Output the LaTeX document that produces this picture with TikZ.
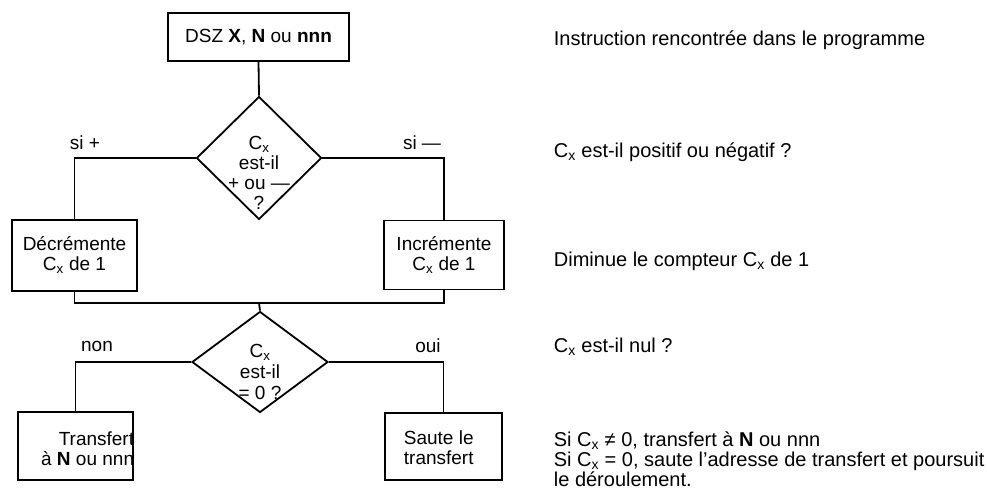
\documentclass[tikz,border=0pt]{standalone}
\usepackage{fontspec}
\setmainfont{Liberation Sans}
\usetikzlibrary{shapes.geometric}
\newcommand{\Cx}{C\textsubscript{x}}
\begin{document}
\begin{tikzpicture}[x=1pt,y=-1pt,line width=1.8pt,
  txt/.style={font=\fontsize{19}{20}\selectfont,inner sep=0pt,align=center},
  note/.style={font=\fontsize{20}{20}\selectfont,inner sep=0pt,anchor=base west,align=left},
  stepbox/.style={draw,rectangle,inner sep=0pt},
  test/.style={draw,diamond,inner sep=0pt}]
\useasboundingbox (0,0) rectangle (987,496);

% flowchart boxes
\node[stepbox,minimum width=181pt,minimum height=48pt] (dsz) at (258.5,37) {};
\node[txt] (dszt) at (258.5,37) {DSZ \textbf{X}, \textbf{N} ou \textbf{nnn}};

\node[test,minimum width=125pt,minimum height=123pt] (d1) at (259,158) {};
\node[txt] (d1t) at (259,173) {\Cx\\est-il\\+ ou —\\?};

\node[stepbox,minimum width=125pt,minimum height=71pt] (dec) at (74.5,255.5) {};
\node[txt] (dect) at (74.5,255) {Décrémente\\\Cx\ de 1};

\node[stepbox,minimum width=120pt,minimum height=69pt] (inc) at (444,255) {};
\node[txt] (inct) at (444,255) {Incrémente\\\Cx\ de 1};

\coordinate (join) at (259,303);

\node[test,minimum width=136pt,minimum height=101pt] (d2) at (260,362) {};
\node[txt] (d2t) at (260,372) {\Cx\\[1pt]est-il\\[1pt]= 0 ?};

\node[stepbox,minimum width=115pt,minimum height=68pt] (trf) at (75.5,446) {};
\node[txt,align=right,anchor=east] (trft) at (135,449) {Transfert\\à \textbf{N} ou nnn};

\node[stepbox,minimum width=117pt,minimum height=67pt] (skip) at (443.5,446.5) {};
\node[txt,align=left,anchor=west] (skipt) at (403,448) {Saute le\\transfert};

% connectors
\draw (dsz.south) -- (d1.north);
\draw (d1.west) -| (dec.north);
\draw (d1.east) -| (inc.north);
\draw (dec.south) |- (join) -| (inc.south);
\draw (join) -- (d2.north);
\draw (d2.west) -| (trf.north);
\draw (d2.east) -| (skip.north);

% branch labels
\node[txt] (lp) at (85,143) {si +};
\node[txt] (lm) at (422,143) {si —};
\node[txt] (ln) at (97,346) {non};
\node[txt] (lo) at (428,346) {oui};

% explanations
\node[note] (n1) at (553,45) {Instruction rencontrée dans le programme};
\node[note] (n2) at (553,157) {\Cx\ est-il positif ou négatif ?};
\node[note] (n3) at (553,266) {Diminue le compteur \Cx\ de 1};
\node[note] (n4) at (553,352) {\Cx\ est-il nul ?};
\node[note] (n5) at (553,486) {Si \Cx\ ≠ 0, transfert à \textbf{N} ou nnn\\Si \Cx\ = 0, saute l’adresse de transfert et poursuit\\le déroulement.};
\end{tikzpicture}
\end{document}
